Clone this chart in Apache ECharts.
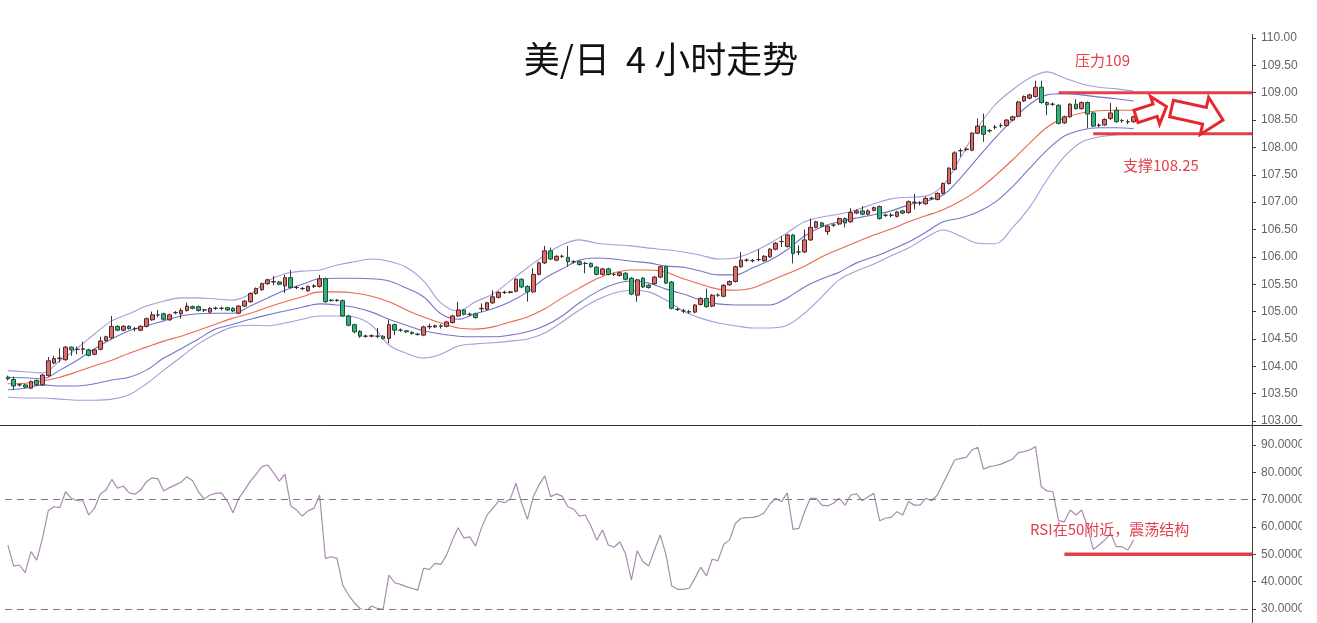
<!DOCTYPE html>
<html><head><meta charset="utf-8">
<script src="https://cdn.jsdelivr.net/npm/echarts@6/dist/echarts.min.js"></script>
<style>html,body{margin:0;padding:0;background:#fff;} #c{width:1317px;height:623px;}</style>
</head><body><div id="c"></div>
<script>
// ---------- data ----------
const slotCount = 216;               // category slots on the time axis (196 candles + empty space)
// [open, close, low, high]
const ohlc = [
[103.80,103.77,103.74,103.83],[103.76,103.64,103.57,103.81],[103.66,103.66,103.63,103.69],[103.66,103.62,103.60,103.68],[103.60,103.72,103.58,103.74],
[103.74,103.66,103.64,103.76],[103.66,103.84,103.64,103.86],[103.83,104.10,103.81,104.17],[104.06,104.14,104.04,104.19],[104.14,104.15,104.07,104.33],
[104.12,104.35,104.10,104.37],[104.35,104.30,104.19,104.36],[104.31,104.31,104.22,104.36],[104.31,104.32,104.22,104.45],[104.30,104.20,104.18,104.32],
[104.22,104.30,104.20,104.32],[104.31,104.46,104.29,104.54],[104.47,104.54,104.45,104.56],[104.52,104.73,104.50,104.92],[104.73,104.66,104.64,104.75],
[104.66,104.73,104.64,104.75],[104.73,104.69,104.67,104.75],[104.69,104.69,104.64,104.72],[104.66,104.73,104.64,104.75],[104.73,104.87,104.71,104.89],
[104.85,104.94,104.83,105.00],[104.94,104.94,104.90,105.03],[104.96,104.86,104.84,104.98],[104.85,104.94,104.83,104.96],[104.98,104.98,104.95,105.01],
[104.96,105.02,104.87,105.06],[105.02,105.10,105.00,105.16],[105.09,105.06,105.04,105.11],[105.09,105.02,105.00,105.11],[105.03,105.03,104.99,105.05],
[104.99,105.06,104.97,105.08],[105.06,105.06,105.03,105.09],[105.06,105.06,105.02,105.09],[105.07,105.03,105.01,105.09],[105.06,105.01,104.99,105.08],
[104.97,105.10,104.95,105.12],[105.10,105.19,105.08,105.21],[105.18,105.33,105.16,105.35],[105.33,105.42,105.31,105.44],[105.40,105.51,105.38,105.53],
[105.51,105.58,105.49,105.60],[105.54,105.55,105.48,105.65],[105.54,105.50,105.48,105.56],[105.47,105.62,105.34,105.67],[105.62,105.44,105.42,105.76],
[105.44,105.44,105.41,105.47],[105.42,105.42,105.39,105.45],[105.38,105.46,105.36,105.48],[105.46,105.47,105.43,105.50],[105.46,105.60,105.44,105.67],
[105.60,105.18,105.16,105.62],[105.21,105.20,105.18,105.23],[105.20,105.21,105.18,105.23],[105.20,104.92,104.90,105.22],[104.92,104.75,104.73,104.94],
[104.76,104.63,104.60,104.78],[104.64,104.55,104.52,104.66],[104.55,104.55,104.52,104.58],[104.55,104.56,104.53,104.58],[104.55,104.55,104.51,104.70],
[104.55,104.51,104.49,104.57],[104.51,104.76,104.42,104.85],[104.76,104.66,104.57,104.78],[104.66,104.66,104.63,104.69],[104.65,104.63,104.61,104.66],
[104.62,104.60,104.58,104.64],[104.59,104.58,104.56,104.61],[104.57,104.72,104.55,104.74],[104.72,104.73,104.68,104.78],[104.72,104.74,104.70,104.76],
[104.74,104.73,104.69,104.77],[104.73,104.81,104.71,104.83],[104.80,104.92,104.78,104.94],[104.92,105.03,104.90,105.18],[105.03,104.95,104.93,105.05],
[104.95,104.95,104.92,104.98],[104.96,104.89,104.87,104.98],[105.05,105.06,104.99,105.15],[105.04,105.16,105.02,105.18],[105.16,105.27,105.14,105.39],
[105.26,105.35,105.24,105.37],[105.35,105.35,105.32,105.38],[105.35,105.36,105.33,105.38],[105.37,105.59,105.35,105.61],[105.59,105.45,105.43,105.61],
[105.46,105.36,105.18,105.48],[105.36,105.68,105.34,105.79],[105.68,105.89,105.66,105.91],[105.89,106.11,105.87,106.20],[106.11,105.96,105.94,106.17],
[105.94,106.01,105.92,106.03],[106.01,106.01,105.98,106.04],[105.99,105.91,105.82,106.20],[105.91,105.91,105.88,105.94],[105.91,105.86,105.84,105.93],
[105.88,105.88,105.70,105.91],[105.88,105.82,105.80,105.90],[105.81,105.68,105.66,105.83],[105.68,105.78,105.66,105.80],[105.78,105.68,105.66,105.80],
[105.68,105.68,105.65,105.71],[105.66,105.71,105.64,105.73],[105.70,105.59,105.57,105.72],[105.61,105.32,105.30,105.63],[105.30,105.58,105.18,105.60],
[105.61,105.45,105.43,105.63],[105.48,105.44,105.42,105.50],[105.51,105.63,105.49,105.65],[105.63,105.82,105.61,105.84],[105.82,105.52,105.50,105.84],
[105.54,105.06,105.04,105.56],[105.04,105.04,105.01,105.07],[105.01,105.01,104.97,105.05],[105.00,104.99,104.96,105.03],[104.99,105.12,104.97,105.14],
[105.13,105.24,105.11,105.26],[105.24,105.09,105.07,105.42],[105.10,105.30,105.08,105.32],[105.30,105.30,105.27,105.33],[105.28,105.48,105.26,105.50],
[105.49,105.55,105.47,105.57],[105.55,105.82,105.53,105.84],[105.82,105.94,105.80,106.09],[105.94,105.94,105.91,105.97],[105.93,105.93,105.90,105.96],
[105.95,105.95,105.92,106.14],[105.93,106.01,105.91,106.03],[106.00,106.14,105.98,106.16],[106.14,106.25,106.12,106.27],[106.28,106.28,106.18,106.38],
[106.19,106.40,106.17,106.42],[106.40,106.06,105.88,106.42],[106.09,106.09,106.03,106.21],[106.09,106.31,106.07,106.50],[106.31,106.54,106.29,106.70],
[106.54,106.64,106.52,106.66],[106.62,106.56,106.54,106.64],[106.46,106.56,106.40,106.58],[106.58,106.58,106.55,106.61],[106.60,106.70,106.58,106.72],
[106.70,106.62,106.54,106.72],[106.64,106.81,106.62,106.89],[106.80,106.84,106.78,106.87],[106.84,106.78,106.76,106.93],[106.78,106.84,106.76,106.87],
[106.85,106.90,106.83,106.92],[106.92,106.70,106.68,106.94],[106.76,106.76,106.73,106.79],[106.76,106.76,106.72,106.80],[106.74,106.82,106.72,106.84],
[106.84,106.80,106.78,106.86],[106.81,107.01,106.79,107.03],[106.99,107.00,106.87,107.15],[106.98,106.98,106.94,107.02],[106.97,107.07,106.95,107.10],
[107.07,107.07,107.04,107.10],[107.05,107.16,107.03,107.18],[107.16,107.34,107.14,107.36],[107.34,107.62,107.32,107.64],[107.60,107.90,107.58,107.93],
[107.94,107.94,107.83,107.98],[107.96,107.97,107.93,108.00],[107.95,108.26,107.93,108.28],[108.26,108.39,108.24,108.53],[108.39,108.24,108.10,108.62],
[108.31,108.30,108.27,108.34],[108.37,108.37,108.33,108.41],[108.40,108.40,108.36,108.44],[108.40,108.50,108.38,108.52],[108.50,108.56,108.48,108.58],
[108.57,108.83,108.55,108.85],[108.85,108.93,108.83,108.95],[108.90,108.96,108.88,108.98],[108.93,109.10,108.91,109.22],[109.10,108.82,108.80,109.22],
[108.82,108.78,108.59,108.84],[108.79,108.79,108.76,108.82],[108.77,108.44,108.42,108.79],[108.45,108.56,108.43,108.58],[108.56,108.79,108.54,108.81],
[108.79,108.71,108.69,108.88],[108.71,108.82,108.69,108.84],[108.82,108.61,108.35,108.84],[108.63,108.39,108.37,108.65],[108.40,108.41,108.37,108.44],
[108.41,108.51,108.39,108.53],[108.53,108.63,108.50,108.81],[108.68,108.47,108.45,108.74],[108.49,108.49,108.45,108.52],[108.47,108.47,108.43,108.51],
[108.47,108.56,108.45,108.58]
];
// candle numbers at which the band lines were read
const bandIdx = [1,4,7,10,13,16,19,22,25,28,31,34,37,40,43,46,49,52,55,58,61,64,67,70,73,76,79,82,85,88,91,94,97,100,103,106,109,112,115,118,121,124,127,130,133,136,139,142,145,148,151,154,157,160,163,166,169,172,175,178,181,184,187,190,193,196];
const bandOuterUp = [103.92,103.90,103.88,104.10,104.33,104.59,104.83,104.96,105.10,105.19,105.25,105.25,105.23,105.21,105.32,105.56,105.69,105.74,105.76,105.85,105.91,105.96,105.92,105.81,105.56,105.16,105.01,105.18,105.32,105.56,105.80,106.03,106.22,106.31,106.25,106.22,106.20,106.16,106.13,106.09,106.03,105.96,105.98,106.09,106.25,106.44,106.64,106.73,106.78,106.86,106.97,107.06,107.09,107.11,107.31,107.81,108.36,108.78,109.05,109.27,109.38,109.27,109.16,109.10,109.07,109.03];
const bandInnerUp = [103.80,103.79,103.77,103.93,104.11,104.32,104.50,104.65,104.74,104.83,104.92,104.96,104.97,104.97,105.10,105.25,105.39,105.50,105.60,105.61,105.61,105.60,105.56,105.43,105.27,104.96,104.86,104.96,105.05,105.18,105.36,105.61,105.78,105.94,105.98,105.96,105.92,105.89,105.83,105.81,105.74,105.67,105.67,105.80,105.94,106.13,106.38,106.55,106.64,106.71,106.77,106.84,106.95,107.02,107.13,107.44,107.81,108.17,108.50,108.79,108.96,108.98,108.96,108.92,108.89,108.85];
const bandMid = [103.68,103.69,103.73,103.80,103.90,104.01,104.11,104.24,104.35,104.46,104.55,104.66,104.77,104.88,104.97,105.08,105.18,105.27,105.36,105.36,105.34,105.28,105.18,105.03,104.90,104.79,104.70,104.68,104.72,104.81,104.90,105.05,105.25,105.43,105.60,105.71,105.76,105.76,105.72,105.60,105.50,105.41,105.39,105.43,105.56,105.69,105.83,106.00,106.14,106.27,106.40,106.51,106.64,106.75,106.86,107.02,107.22,107.48,107.77,108.08,108.37,108.54,108.63,108.67,108.68,108.68];
const bandInnerLow = [103.57,103.60,103.66,103.64,103.64,103.68,103.75,103.80,103.93,104.15,104.32,104.50,104.68,104.77,104.86,104.94,105.01,105.08,105.14,105.12,105.08,104.99,104.86,104.75,104.65,104.59,104.55,104.54,104.54,104.57,104.63,104.74,104.92,105.16,105.36,105.50,105.56,105.52,105.41,105.32,105.21,105.14,105.12,105.12,105.12,105.25,105.45,105.60,105.72,105.89,106.00,106.13,106.27,106.45,106.64,106.71,106.82,107.00,107.28,107.62,107.95,108.21,108.32,108.36,108.36,108.34];
const bandOuterLow = [103.44,103.42,103.42,103.40,103.38,103.38,103.40,103.48,103.68,103.93,104.17,104.41,104.59,104.72,104.75,104.74,104.79,104.86,104.92,104.92,104.90,104.75,104.39,104.24,104.15,104.22,104.37,104.41,104.43,104.46,104.50,104.61,104.81,105.03,105.21,105.34,105.39,105.36,105.21,105.01,104.88,104.79,104.74,104.70,104.70,104.75,104.97,105.27,105.58,105.74,105.87,106.02,106.16,106.35,106.49,106.38,106.25,106.24,106.53,106.91,107.41,107.83,108.10,108.19,108.23,108.25];
const rsi = [
53.4,45.7,46.1,43.3,51.0,47.9,55.9,66.0,67.4,67.1,72.9,70.5,69.6,69.6,64.4,66.8,72.1,73.5,77.4,74.2,
75.0,72.5,72.0,73.5,76.6,78.0,77.6,73.2,74.4,75.4,76.4,78.4,76.9,72.9,70.2,71.7,72.3,72.5,69.5,65.2,
70.5,73.5,76.8,79.3,82.1,82.7,79.9,76.8,79.3,67.7,66.2,64.0,65.9,66.8,71.7,48.5,49.1,48.5,38.8,35.1,
32.3,30.2,29.0,31.1,30.2,29.9,42.4,39.6,39.0,38.2,37.6,36.9,44.9,44.5,46.7,46.3,49.8,55.2,59.7,55.9,
56.4,53.0,59.5,64.4,66.8,69.5,68.9,70.1,76.0,68.7,62.8,71.1,75.4,78.7,71.1,72.1,71.3,67.4,66.5,64.0,
64.4,60.4,55.2,58.9,53.4,52.6,54.6,50.1,40.6,51.3,47.3,45.7,51.6,57.1,49.8,38.4,37.2,37.2,37.6,41.2,
45.3,42.1,48.2,47.7,53.7,55.2,61.3,63.2,63.4,63.5,64.0,65.2,68.4,70.5,69.3,72.5,59.1,59.5,65.6,70.5,
70.5,68.0,67.7,68.7,70.5,68.0,71.7,72.1,69.6,71.1,72.3,62.3,63.2,63.5,65.6,64.4,69.3,68.0,68.0,70.5,
69.6,71.7,76.0,80.2,84.5,85.1,85.5,88.2,89.2,81.1,82.1,82.4,83.0,83.9,84.8,87.2,87.6,88.2,89.4,74.7,
73.2,72.9,62.3,61.9,66.2,64.4,66.2,60.1,51.8,53.4,55.2,57.7,52.8,52.8,51.6,55.2
];
const priceAxis = {min: 103, max: 110, step: 0.5};
const rsiAxis = {min: 30, max: 90, step: 10};
const rsiGuides = [70, 30];
const resistance = {value: 109.00, fromCandle: 183, label: '压力109'};
const support = {value: 108.25, fromCandle: 189, label: '支撑108.25'};
const rsiLevel = {value: 50, fromCandle: 184, label: 'RSI在50附近，震荡结构'};
const titleText = '美/日  4 小时走势';

// ---------- chart ----------
const categories = Array.from({length: slotCount}, (_, i) => String(i + 1));
const band = vals => bandIdx.map((n, i) => [n - 1, vals[i]]);
const RED = '#e2404a';

const chart = echarts.init(document.getElementById('c'));
const lineS = (name, vals, color) => ({
  name, type: 'line', xAxisIndex: 0, yAxisIndex: 0, data: band(vals),
  smooth: 0.35, showSymbol: false, symbol: 'none', connectNulls: true,
  lineStyle: {color, width: 1.1}, silent: true, z: 3
});
const axisLabelBase = {color: '#666', fontSize: 12, fontFamily: 'Liberation Sans, Arial, sans-serif', margin: 9};

chart.setOption({
  animation: false,
  backgroundColor: '#fff',
  grid: [
    {left: 5, right: 65, top: 38, height: 383},
    {left: 5, right: 65, top: 445, height: 164}
  ],
  xAxis: [
    {type: 'category', gridIndex: 0, data: categories, show: false},
    {type: 'category', gridIndex: 1, data: categories, show: false}
  ],
  yAxis: [
    {type: 'value', gridIndex: 0, position: 'right', min: priceAxis.min, max: priceAxis.max, interval: priceAxis.step,
     axisLine: {show: false}, splitLine: {show: false},
     axisTick: {show: true, length: 4, lineStyle: {color: '#444'}},
     axisLabel: Object.assign({}, axisLabelBase, {formatter: v => v.toFixed(2)})},
    {type: 'value', gridIndex: 1, position: 'right', min: rsiAxis.min, max: rsiAxis.max, interval: rsiAxis.step,
     axisLine: {show: false}, splitLine: {show: false},
     axisTick: {show: true, length: 4, lineStyle: {color: '#444'}},
     axisLabel: Object.assign({}, axisLabelBase, {formatter: v => v.toFixed(4)})}
  ],
  series: [
    lineS('outerUp', bandOuterUp, '#a49ddb'),
    lineS('innerUp', bandInnerUp, '#7377c9'),
    lineS('mid', bandMid, '#e8694c'),
    lineS('innerLow', bandInnerLow, '#7377c9'),
    lineS('outerLow', bandOuterLow, '#a49ddb'),
    {name: 'k', type: 'candlestick', xAxisIndex: 0, yAxisIndex: 0, data: ohlc, barWidth: 4.2, z: 5,
     itemStyle: {color: '#e46a66', color0: '#2eb37c', borderColor: '#4a2a2a', borderColor0: '#244a38', borderColorDoji: '#333', borderWidth: 1}},
    {name: 'rsi', type: 'line', xAxisIndex: 1, yAxisIndex: 1, data: rsi, showSymbol: false, symbol: 'none',
     lineStyle: {color: '#a98bb0', width: 1.2},
     markLine: {silent: true, symbol: 'none', label: {show: false},
       lineStyle: {color: '#7a7a7a', type: [7, 5], width: 1},
       data: rsiGuides.map(v => ({yAxis: v}))}}
  ]
});

// ---------- annotations ----------
function px(gi, cat, val) { return chart.convertToPixel({xAxisIndex: gi, yAxisIndex: gi}, [cat, val]); }
const rightEdge = 1317 - 65;
function hline(gi, item, w) {
  const p = px(gi, item.fromCandle - 1, item.value);
  return {type: 'line', shape: {x1: p[0], y1: p[1], x2: rightEdge, y2: p[1]}, style: {stroke: RED, lineWidth: w}, z: 20};
}
function arrow(tx, ty, hx, hy, bh, hh, hl) {
  const dx = hx - tx, dy = hy - ty, L = Math.hypot(dx, dy);
  const ux = dx / L, uy = dy / L, nx = -uy, ny = ux;
  const nkx = hx - ux * hl, nky = hy - uy * hl;
  const pts = [
    [tx + nx * bh, ty + ny * bh], [nkx + nx * bh, nky + ny * bh], [nkx + nx * hh, nky + ny * hh],
    [hx, hy], [nkx - nx * hh, nky - ny * hh], [nkx - nx * bh, nky - ny * bh], [tx - nx * bh, ty - ny * bh]
  ];
  return {type: 'polygon', shape: {points: pts}, style: {fill: '#fff', stroke: '#e8262e', lineWidth: 3, lineJoin: 'miter'}, z: 21};
}
const txt = (x, y, t, size) => ({type: 'text', x, y, style: {text: t, fill: RED, font: size + 'px "Noto Sans CJK SC", sans-serif', textAlign: 'left', textVerticalAlign: 'middle'}, z: 22});

chart.setOption({
  graphic: [
    {type: 'text', x: 661, y: 59, style: {text: titleText, fill: '#111', font: '36px "Noto Sans CJK SC", serif', textAlign: 'center', textVerticalAlign: 'middle'}, z: 30},
    {type: 'line', shape: {x1: 0, y1: 425.5, x2: 1302, y2: 425.5}, style: {stroke: '#333', lineWidth: 1}, z: 10},
    {type: 'line', shape: {x1: 1252.5, y1: 34, x2: 1252.5, y2: 623}, style: {stroke: '#444', lineWidth: 1}, z: 10},
    {type: 'rect', shape: {x: 1302, y: 427, width: 15, height: 196}, style: {fill: '#fff'}, z: 40},
    hline(0, resistance, 3),
    hline(0, support, 3),
    hline(1, rsiLevel, 3.5),
    arrow(1136, 116.5, 1166.5, 106.5, 6.5, 14.5, 12),
    arrow(1171.5, 108.5, 1223, 120, 8.5, 19, 19),
    txt(1075, 60, resistance.label, 15),
    txt(1123, 165, support.label, 15),
    txt(1030, 529, rsiLevel.label, 15)
  ]
});
</script>
</body></html>
